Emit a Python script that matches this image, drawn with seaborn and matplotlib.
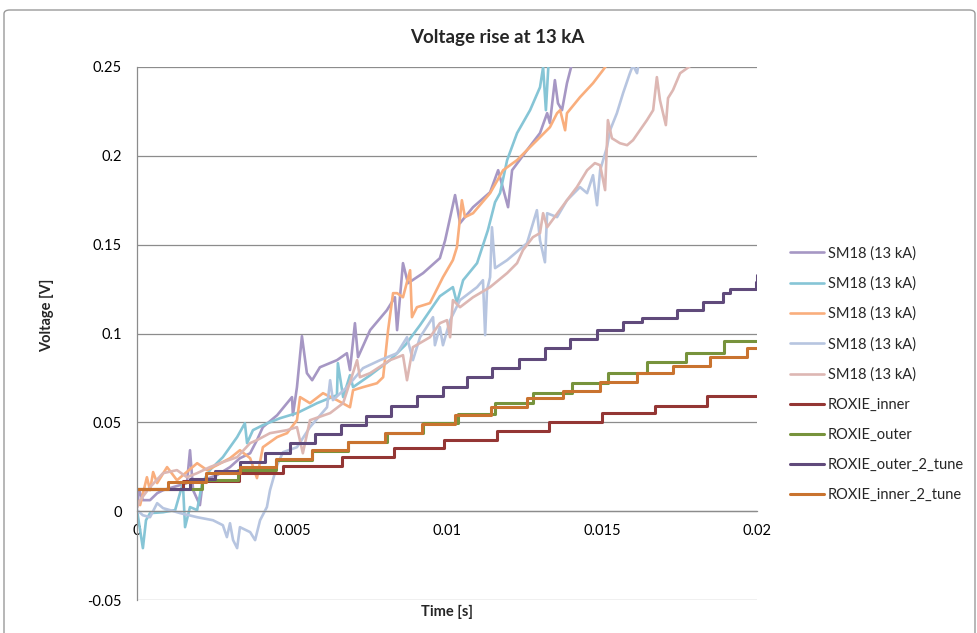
import matplotlib
matplotlib.use("Agg")
import matplotlib.pyplot as plt
from matplotlib.patches import FancyBboxPatch
import seaborn as sns

sns.set_style("white")
plt.rcParams["font.family"] = ["Lato", "DejaVu Sans"]

# ---- SM18 measurements at 13 kA: time [s] and voltage [V] ----
sm18_1_t = [0, 0.000065, 0.00019, 0.00042, 0.00065, 0.00084, 0.00116, 0.00161, 0.00171, 0.00181,
            0.00203, 0.00213, 0.00258, 0.00300, 0.00332, 0.00365, 0.00387, 0.00406, 0.00452, 0.00484,
            0.00500, 0.00503, 0.00516, 0.00532, 0.00548, 0.00565, 0.00590, 0.00645, 0.00677, 0.00687,
            0.00703, 0.00713, 0.00752, 0.00806, 0.00832, 0.00839, 0.00858, 0.00874, 0.00923, 0.00977,
            0.00994, 0.01026, 0.01042, 0.01084, 0.01139, 0.01165, 0.01197, 0.01210, 0.01258, 0.01300,
            0.01323, 0.01332, 0.01348, 0.01358, 0.01371, 0.01387, 0.01406, 0.01429]
sm18_1_v = [0.0017, 0.0118, 0.0062, 0.0062, 0.0101, 0.0118, 0.0135, 0.0158, 0.0343, 0.0118,
            0.0034, 0.0174, 0.0203, 0.0248, 0.0298, 0.0326, 0.0400, 0.0473, 0.0540, 0.0608,
            0.0642, 0.0540, 0.0698, 0.0985, 0.0777, 0.0737, 0.0810, 0.0850, 0.0889, 0.0794,
            0.1058, 0.0867, 0.1019, 0.1131, 0.1204, 0.1019, 0.1396, 0.1283, 0.1340, 0.1424,
            0.1525, 0.1779, 0.1621, 0.1711, 0.1795, 0.1919, 0.1711, 0.1919, 0.2032, 0.2128,
            0.2240, 0.2184, 0.2426, 0.2296, 0.2257, 0.2409, 0.2538, 0.2595]

sm18_2_t = [0, 0.0001, 0.00019, 0.00029, 0.00042, 0.00084, 0.00123, 0.00148, 0.00155, 0.00171,
            0.00194, 0.00210, 0.00235, 0.00277, 0.00323, 0.00348, 0.00355, 0.00374, 0.00406, 0.00461,
            0.00516, 0.00581, 0.00645, 0.00648, 0.00665, 0.00687, 0.00697, 0.00752, 0.00816, 0.00865,
            0.00913, 0.00977, 0.01019, 0.01032, 0.01052, 0.01097, 0.01132, 0.01155, 0.01171, 0.01194,
            0.01226, 0.01268, 0.01300, 0.01310, 0.01319, 0.01329]
sm18_2_v = [0.0006, -0.0107, -0.0208, -0.0051, -0.0011, -0.0006, 0.0006, 0.0158, -0.0090, 0.0023,
            0.0006, 0.0158, 0.0231, 0.0304, 0.0417, 0.0495, 0.0383, 0.0456, 0.0484, 0.0523,
            0.0552, 0.0608, 0.0653, 0.0833, 0.0642, 0.0765, 0.0698, 0.0765, 0.0850, 0.0934,
            0.1047, 0.1210, 0.1261, 0.1171, 0.1300, 0.1396, 0.1582, 0.1739, 0.1790, 0.1976,
            0.2128, 0.2257, 0.2386, 0.2499, 0.2257, 0.2567]

sm18_3_t = [0, 0.0001, 0.00032, 0.00042, 0.00052, 0.00065, 0.00097, 0.00129, 0.00194, 0.00226,
            0.00258, 0.00300, 0.00332, 0.00365, 0.00387, 0.00406, 0.00452, 0.00484, 0.00516, 0.00526,
            0.00558, 0.00600, 0.00645, 0.00687, 0.00697, 0.00729, 0.00774, 0.00794, 0.00810, 0.00826,
            0.00839, 0.00858, 0.00881, 0.00887, 0.00903, 0.00945, 0.00987, 0.01019, 0.01032, 0.01048,
            0.01058, 0.01084, 0.01139, 0.01181, 0.01226, 0.01258, 0.01300, 0.01332, 0.01355, 0.01365,
            0.01381, 0.01387, 0.01429, 0.01471, 0.01503, 0.01526]
sm18_3_v = [0.0062, 0.0034, 0.0191, 0.0118, 0.0220, 0.0158, 0.0248, 0.0174, 0.0270, 0.0231,
            0.0259, 0.0298, 0.0343, 0.0298, 0.0186, 0.0360, 0.0417, 0.0439, 0.0512, 0.0642,
            0.0608, 0.0664, 0.0625, 0.0585, 0.0681, 0.0698, 0.0720, 0.0754, 0.1019, 0.1227,
            0.1227, 0.1204, 0.1356, 0.1092, 0.1148, 0.1171, 0.1317, 0.1413, 0.1486, 0.1750,
            0.1655, 0.1677, 0.1790, 0.1919, 0.1976, 0.2032, 0.2105, 0.2161, 0.2240, 0.2257,
            0.2144, 0.2240, 0.2330, 0.2409, 0.2482, 0.2538]

sm18_4_t = [0, 0.00019, 0.00042, 0.00065, 0.00084, 0.00106, 0.00139, 0.00194, 0.00245, 0.00277,
            0.00290, 0.00300, 0.00310, 0.00323, 0.00332, 0.00365, 0.00381, 0.00397, 0.00419, 0.00429,
            0.00452, 0.00471, 0.00516, 0.00558, 0.00613, 0.00623, 0.00632, 0.00677, 0.00729, 0.00784,
            0.00839, 0.00871, 0.00890, 0.00913, 0.00955, 0.00961, 0.00977, 0.00987, 0.01010, 0.01042,
            0.01097, 0.01116, 0.01123, 0.01129, 0.01139, 0.01145, 0.01155, 0.01194, 0.01258, 0.01290,
            0.01300, 0.01316, 0.01323, 0.01355, 0.01387, 0.01429, 0.01452, 0.01471, 0.01484, 0.01494,
            0.01516, 0.01526, 0.01548, 0.01568, 0.01590, 0.01600, 0.01613, 0.01623]
sm18_4_v = [0.0006, -0.0023, -0.0034, 0.0045, 0.0017, 0.0006, -0.0011, -0.0034, -0.0051, -0.0079,
            -0.0146, -0.0068, -0.0163, -0.0208, -0.0090, -0.0118, -0.0163, -0.0051, 0.0023, 0.0118,
            0.0259, 0.0332, 0.0360, 0.0473, 0.0585, 0.0737, 0.0625, 0.0698, 0.0805, 0.0850,
            0.0889, 0.0979, 0.0850, 0.0979, 0.1092, 0.0934, 0.1036, 0.0934, 0.1075, 0.1188,
            0.1261, 0.1300, 0.0991, 0.1244, 0.1317, 0.1598, 0.1368, 0.1413, 0.1508, 0.1694,
            0.1525, 0.1401, 0.1677, 0.1655, 0.1750, 0.1824, 0.1790, 0.1891, 0.1722, 0.1919,
            0.2049, 0.2144, 0.2240, 0.2353, 0.2465, 0.2510, 0.2465, 0.2567]

sm18_5_t = [0, 0.0001, 0.00042, 0.00084, 0.00129, 0.00161, 0.00194, 0.00235, 0.00277, 0.00323,
            0.00365, 0.00387, 0.00429, 0.00484, 0.00516, 0.00535, 0.00558, 0.00623, 0.00665, 0.00710,
            0.00719, 0.00752, 0.00816, 0.00858, 0.00871, 0.00890, 0.00945, 0.00977, 0.01000, 0.01010,
            0.01019, 0.01042, 0.01084, 0.01139, 0.01194, 0.01226, 0.01245, 0.01277, 0.01300, 0.01310,
            0.01323, 0.01387, 0.01419, 0.01452, 0.01477, 0.01494, 0.01510, 0.01519, 0.01532, 0.01558,
            0.01581, 0.01600, 0.01645, 0.01665, 0.01677, 0.01687, 0.01706, 0.01713, 0.01729, 0.01752,
            0.01784, 0.01816]
sm18_5_v = [0.0023, 0.0062, 0.0135, 0.0214, 0.0231, 0.0191, 0.0214, 0.0248, 0.0276, 0.0304,
            0.0383, 0.0400, 0.0439, 0.0456, 0.0473, 0.0326, 0.0512, 0.0552, 0.0608, 0.0850,
            0.0754, 0.0777, 0.0850, 0.0878, 0.0737, 0.0923, 0.0979, 0.1058, 0.1075, 0.0979,
            0.1188, 0.1148, 0.1204, 0.1261, 0.1340, 0.1396, 0.1469, 0.1542, 0.1565, 0.1677,
            0.1598, 0.1750, 0.1824, 0.1919, 0.1959, 0.1947, 0.1807, 0.2201, 0.2099, 0.2071,
            0.2060, 0.2088, 0.2201, 0.2257, 0.2443, 0.2313, 0.2173, 0.2325, 0.2370, 0.2465,
            0.2505, 0.2527]

# ---- ROXIE simulations (piecewise constant) ----
roxie_inner_t = [0, 0.0015, 0.0033, 0.0047, 0.0066, 0.0083, 0.0099, 0.0116, 0.0133, 0.0150,
                 0.0167, 0.0184, 0.0200]
roxie_inner_v = [0.0124, 0.0169, 0.0214, 0.0253, 0.0304, 0.0355, 0.0400, 0.0450, 0.0501, 0.0552,
                 0.0591, 0.0647, 0.0647]

roxie_outer_t = [0, 0.0021, 0.00326, 0.00448, 0.00565, 0.00681, 0.00806, 0.00923, 0.01035, 0.01155,
                 0.01277, 0.01403, 0.01519, 0.01645, 0.01771, 0.01894, 0.0200]
roxie_outer_v = [0.0124, 0.0174, 0.0231, 0.0287, 0.0338, 0.0388, 0.0439, 0.0495, 0.0546, 0.0608,
                 0.0664, 0.0720, 0.0777, 0.0839, 0.0889, 0.0957, 0.0957]

roxie_outer2_t = [0, 0.00171, 0.00252, 0.00332, 0.00413, 0.00494, 0.00574, 0.00658, 0.00739, 0.00819,
                  0.00903, 0.00987, 0.01065, 0.01145, 0.01232, 0.01316, 0.01397, 0.01484, 0.01568,
                  0.01629, 0.01742, 0.01826, 0.01890, 0.01913, 0.01997, 0.0200]
roxie_outer2_v = [0.0124, 0.0180, 0.0225, 0.0276, 0.0326, 0.0383, 0.0433, 0.0484, 0.0535, 0.0591,
                  0.0647, 0.0698, 0.0754, 0.0805, 0.0856, 0.0917, 0.0968, 0.1019, 0.1064,
                  0.1086, 0.1131, 0.1176, 0.1227, 0.1250, 0.1289, 0.1330]

roxie_inner2_t = [0, 0.0010, 0.00223, 0.00332, 0.00448, 0.00565, 0.00681, 0.00800, 0.00919, 0.01026,
                  0.01142, 0.01258, 0.01374, 0.01494, 0.01613, 0.01729, 0.01848, 0.01968, 0.0200]
roxie_inner2_v = [0.0124, 0.0163, 0.0214, 0.0248, 0.0293, 0.0343, 0.0388, 0.0439, 0.0490, 0.0540,
                  0.0585, 0.0636, 0.0675, 0.0726, 0.0777, 0.0816, 0.0867, 0.0917, 0.0917]

series_labels = ["SM18 (13 kA)", "SM18 (13 kA)", "SM18 (13 kA)", "SM18 (13 kA)", "SM18 (13 kA)",
                 "ROXIE_inner", "ROXIE_outer", "ROXIE_outer_2_tune", "ROXIE_inner_2_tune"]
series_colors = ["#A697C4", "#86C5D6", "#F9AE7D", "#B7C5E0", "#DDB7B3",
                 "#943634", "#77933C", "#604A7B", "#C9732F"]
series_data = [(sm18_1_t, sm18_1_v), (sm18_2_t, sm18_2_v), (sm18_3_t, sm18_3_v),
               (sm18_4_t, sm18_4_v), (sm18_5_t, sm18_5_v),
               (roxie_inner_t, roxie_inner_v), (roxie_outer_t, roxie_outer_v),
               (roxie_outer2_t, roxie_outer2_v), (roxie_inner2_t, roxie_inner2_v)]

x_ticks = [0, 0.005, 0.01, 0.015, 0.02]
x_tick_labels = ["0", "0.005", "0.01", "0.015", "0.02"]
y_ticks = [-0.05, 0, 0.05, 0.1, 0.15, 0.2, 0.25]
y_tick_labels = ["-0.05", "0", "0.05", "0.1", "0.15", "0.2", "0.25"]

W, H = 978, 633
fig = plt.figure(figsize=(W / 100, H / 100), dpi=100)
fig.patch.set_facecolor("white")

# chart-area frame
fig.patches.append(FancyBboxPatch((4 / W, -0.05), 971 / W, 1.05 - 10 / H,
                                  boxstyle="round,pad=0,rounding_size=0.006",
                                  transform=fig.transFigure, fill=False,
                                  edgecolor="#9A9A9A", lw=1.0))

ax = fig.add_axes([137 / W, 1 - 600 / H, 620 / W, 533 / H])

handles = []
for i, ((t, v), lab, col) in enumerate(zip(series_data, series_labels, series_colors)):
    is_roxie = i >= 5
    sns.lineplot(x=t, y=v, ax=ax, color=col, lw=2.2 if is_roxie else 1.9,
                 estimator=None, sort=False, label=lab,
                 drawstyle="steps-post" if is_roxie else "default")
    handles.append(ax.lines[-1])

ax.set_xlim(0, 0.02)
ax.set_ylim(-0.05, 0.25)
ax.set_xticks(x_ticks)
ax.set_xticklabels(x_tick_labels)
ax.set_yticks(y_ticks)
ax.set_yticklabels(y_tick_labels)
ax.set_xlabel("")
ax.set_ylabel("")

ax.grid(axis="y", color="#8C8C8C", lw=0.9)
ax.grid(axis="x", visible=False)
ax.set_axisbelow(True)
for side in ["top", "right"]:
    ax.spines[side].set_visible(False)
ax.spines["left"].set_color("#8C8C8C")
ax.spines["left"].set_linewidth(0.9)
ax.spines["bottom"].set_position(("data", 0))
ax.spines["bottom"].set_color("#8C8C8C")
ax.spines["bottom"].set_linewidth(0.9)
ax.tick_params(axis="both", length=0, labelsize=10.5, colors="black")
ax.tick_params(axis="y", pad=11)
ax.tick_params(axis="x", pad=9)

fig.text(497 / W, 1 - 37 / H, "Voltage rise at 13 kA", ha="center", va="center",
         fontsize=13.5, fontweight="bold")
fig.text(447 / W, 1 - 612 / H, "Time [s]", ha="center", va="center",
         fontsize=10.5, fontweight="bold")
fig.text(47 / W, 1 - 315 / H, "Voltage [V]", ha="center", va="center",
         rotation=90, fontsize=10.5, fontweight="bold")

ax.legend(handles, series_labels, loc="upper left",
          bbox_to_anchor=(790 / W, 1 - 246 / H), bbox_transform=fig.transFigure,
          frameon=False, fontsize=10.5, handlelength=2.3, handletextpad=0.3,
          labelspacing=1.1, borderpad=0, borderaxespad=0)

fig.savefig("out.png", dpi=100)
